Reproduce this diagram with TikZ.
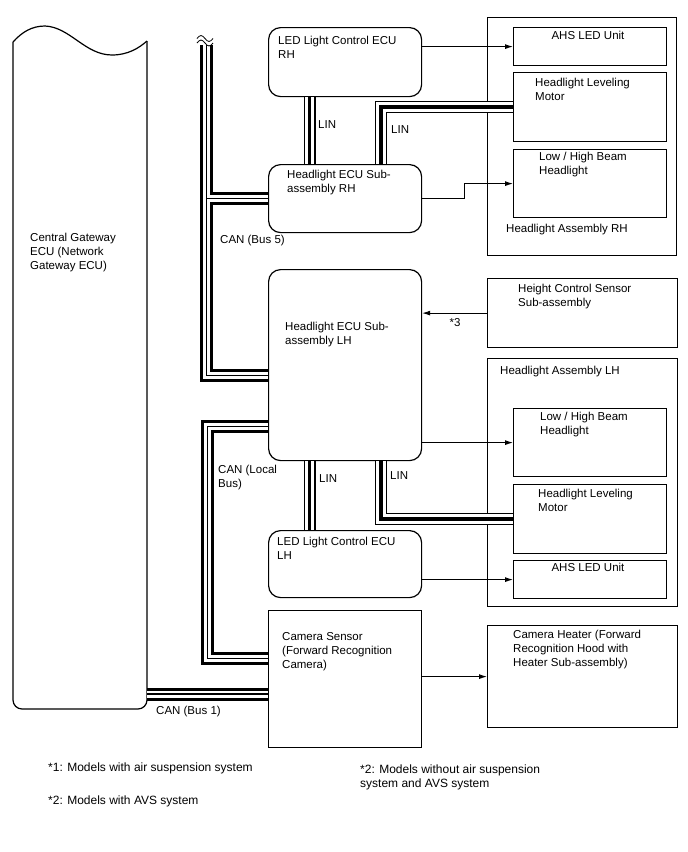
\documentclass[tikz,border=0pt]{standalone}
\usepackage{fontspec}
\setmainfont{Liberation Sans}
\usetikzlibrary{positioning,arrows.meta,calc}

\begin{document}
\begin{tikzpicture}[x=1pt,y=-1pt,
  ecu/.style={draw,line width=1.2pt,rounded corners=12pt,anchor=north west,inner sep=0pt},
  part/.style={draw,line width=1.2pt,anchor=north west,inner sep=0pt},
  txt/.style={anchor=north west,align=left,inner sep=0pt,font=\fontsize{11.5}{14}\selectfont},
  note/.style={anchor=north west,align=left,inner sep=0pt,font=\fontsize{12}{14}\selectfont},
  sig/.style={line width=0.9pt,-{Latex[length=8pt,width=5pt]}},
  can/.style={preaction={draw,line width=13pt},preaction={draw=white,line width=7pt},line width=1.2pt},
  lin/.style={preaction={draw,line width=12pt},preaction={draw=white,line width=9.4pt},line width=3.4pt}]
  \useasboundingbox (0,0) rectangle (688,852);

  % gateway
  \draw[line width=1.2pt] (13,42) .. controls (22,32) and (32,26) .. (45,26)
    .. controls (70,27) and (85,55) .. (112,55) .. controls (128,55) and (139,48) .. (147,41);
  \draw[line width=1.2pt,rounded corners=9pt] (13,42) -- (13,709) -- (147,709) -- (147,41);
  \node[txt] (gw) at (30,232.5) {Central Gateway\\ECU (Network\\Gateway ECU)};
  \coordinate (gwr) at (147,694);
  \coordinate (b5top) at (206.5,45);

  % RH side
  \node[ecu,minimum width=153pt,minimum height=69pt] (ledrh) at (268,27) {};
  \node[txt] (ledrhtxt) at (278,36) {LED Light Control ECU\\RH};
  \node[ecu,minimum width=153pt,minimum height=68pt] (ecurh) at (268,164) {};
  \node[txt] (ecurhtxt) at (287,169.5) {Headlight ECU Sub-\\assembly RH};
  \node[part,minimum width=189pt,minimum height=238pt] (asmrh) at (487,17) {};
  \node[txt] (asmrhtxt) at (506,224) {Headlight Assembly RH};
  \node[part,minimum width=153pt,minimum height=38pt] (ahsrh) at (513,27) {};
  \node[txt,anchor=north] (ahsrhtxt) at (588,31) {AHS LED Unit};
  \node[part,minimum width=153pt,minimum height=69pt] (levrh) at (513,72) {};
  \node[txt] (levrhtxt) at (535,78) {Headlight Leveling\\Motor};
  \node[part,minimum width=153pt,minimum height=68pt] (beamrh) at (513,149) {};
  \node[txt] (beamrhtxt) at (539,152) {Low / High Beam\\Headlight};

  % LH side
  \node[ecu,minimum width=153pt,minimum height=191pt] (eculh) at (268,269) {};
  \node[txt] (eculhtxt) at (285,322) {Headlight ECU Sub-\\assembly LH};
  \node[part,minimum width=190pt,minimum height=69pt] (hgt) at (487,278) {};
  \node[txt] (hgttxt) at (518,283.5) {Height Control Sensor\\Sub-assembly};
  \node[part,minimum width=190pt,minimum height=248pt] (asmlh) at (487,358) {};
  \node[txt] (asmlhtxt) at (500,365.5) {Headlight Assembly LH};
  \node[part,minimum width=153pt,minimum height=68pt] (beamlh) at (513,408) {};
  \node[txt] (beamlhtxt) at (540,412) {Low / High Beam\\Headlight};
  \node[part,minimum width=153pt,minimum height=69pt] (levlh) at (513,484) {};
  \node[txt] (levlhtxt) at (538,488.5) {Headlight Leveling\\Motor};
  \node[part,minimum width=153pt,minimum height=38pt] (ahslh) at (513,560) {};
  \node[txt,anchor=north] (ahslhtxt) at (588,563) {AHS LED Unit};
  \node[ecu,minimum width=153pt,minimum height=67pt] (ledlh) at (268,530) {};
  \node[txt] (ledlhtxt) at (277,536.5) {LED Light Control ECU\\LH};

  % camera
  \node[part,minimum width=153pt,minimum height=137pt] (cam) at (268,610) {};
  \node[txt] (camtxt) at (282,632.5) {Camera Sensor\\(Forward Recognition\\Camera)};
  \node[part,minimum width=190pt,minimum height=102pt] (heater) at (487,625) {};
  \node[txt] (heatertxt) at (513,629.5) {Camera Heater (Forward\\Recognition Hood with\\Heater Sub-assembly)};

  % CAN buses
  \draw[can] (b5top) |- ([yshift=-10.5pt]eculh.west) (b5top |- ecurh.west) -- (ecurh.west);
  \draw[can] ([yshift=-61.5pt]eculh.west) -- ++(-60.5,0) |- ([yshift=20.5pt]cam.west);
  \draw[can] (gwr) -- (gwr -| cam.west);
  \draw[line width=0.8pt] (197,38.5) sin (201,35.5) cos (205,38.5) sin (209,41.5) cos (213,38.5);
  \draw[line width=0.8pt] (197,43) sin (201,40) cos (205,43) sin (209,46) cos (213,43);
  \node[txt,anchor=west] (can5) at (220,241) {CAN (Bus 5)};
  \node[txt] (canloc) at (218,464.5) {CAN (Local\\Bus)};
  \node[txt,anchor=west] (can1) at (156,712) {CAN (Bus 1)};

  % LIN
  \draw[lin] ([xshift=-35.5pt]ledrh.south) -- ([xshift=-35.5pt]ecurh.north);
  \draw[lin] ([xshift=36pt]ecurh.north) |- (levrh.west);
  \draw[lin] ([xshift=-35.5pt]eculh.south) -- ([xshift=-35.5pt]ledlh.north);
  \draw[lin] ([xshift=36pt]eculh.south) |- (levlh.west);
  \node[txt,anchor=west] (lin1) at (318,125) {LIN};
  \node[txt,anchor=west] (lin2) at (391,130) {LIN};
  \node[txt,anchor=west] (lin3) at (319,479) {LIN};
  \node[txt,anchor=west] (lin4) at (390,476) {LIN};

  % signals
  \draw[sig] (ahsrh.west -| ledrh.east) -- (ahsrh.west);
  \draw[sig] (ecurh.east) -- ++(42,0) |- (beamrh.west);
  \draw[sig] (hgt.west) -- (hgt.west -| eculh.east);
  \node[txt,anchor=center] (star3) at (455,323) {*3};
  \draw[sig] (beamlh.west -| eculh.east) -- (beamlh.west);
  \draw[sig] (ahslh.west -| ledlh.east) -- (ahslh.west);
  \draw[sig] (heater.west -| cam.east) -- (heater.west);

  % notes
  \node[note] (n1) at (48,763) {*1: Models with air suspension system};
  \node[note] (n2) at (48,796) {*2: Models with AVS system};
  \node[note] (n3) at (360,765) {*2: Models without air suspension\\system and AVS system};
\end{tikzpicture}
\end{document}
